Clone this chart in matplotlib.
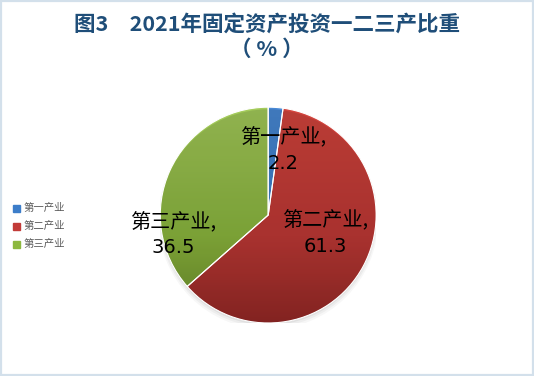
import numpy as np
import matplotlib.pyplot as plt
from matplotlib.colors import LinearSegmentedColormap
from matplotlib.patches import Rectangle

plt.rcParams['font.family'] = ['Noto Sans CJK SC', 'DejaVu Sans']

categories = ["第一产业", "第二产业", "第三产业"]
values = [2.2, 61.3, 36.5]
title_1 = "图3　2021年固定资产投资一二三产比重"
title_2 = "（ % ）"

# dark / middle / light shade per slice
shades = [("#2F6DB8", "#3C7DC9", "#4A8AD6"),
          ("#952A28", "#C13A36", "#D4463F"),
          ("#6B8C2A", "#8DB83F", "#A5CC5C")]
legend_colors = ["#3C7DC9", "#C23B38", "#8DB83F"]
label_pos = [(0.139, 0.597), (0.528, -0.172), (-0.880, -0.186)]


def main():
    fig = plt.figure(figsize=(5.34, 3.76), dpi=100)
    fig.patches.append(Rectangle((0.002, 0.003), 0.996, 0.994,
                                 transform=fig.transFigure, fill=False,
                                 edgecolor="#D3E0EB", linewidth=1.6))

    ax = fig.add_axes([0.300, 0.141, 0.4045, 0.574])
    # soft shadow
    for i, a in enumerate([0.05, 0.04, 0.03]):
        sh = plt.Circle((0.0, -0.02 - 0.01 * i), 1.0 + 0.01 * i,
                        color="black", alpha=a, lw=0)
        ax.add_patch(sh)

    wedges, _ = ax.pie(values, startangle=90, counterclock=False,
                       wedgeprops=dict(edgecolor="white", linewidth=0.8))

    grad = np.linspace(0, 1, 256).reshape(-1, 1)
    for w, (dark, mid, light) in zip(wedges, shades):
        w.set_facecolor("none")
        cmap = LinearSegmentedColormap.from_list(
            "g", [(0, dark), (0.4, mid), (1, light)])
        im = ax.imshow(grad, cmap=cmap, extent=(-1, 1, -1, 1),
                       origin="lower", aspect="auto", zorder=0.5)
        im.set_clip_path(w)
        w.set_zorder(1)

    for (x, y), cat, v in zip(label_pos, categories, values):
        ax.text(x, y + 0.118, f"{cat},", ha="center", va="center",
                fontsize=14.5, color="black", zorder=3)
        ax.text(x, y - 0.118, f"{v}", ha="center", va="center",
                fontsize=14, color="black", family="DejaVu Sans", zorder=3)

    ax.set_xlim(-1, 1)
    ax.set_ylim(-1, 1)
    ax.set_aspect("equal")
    ax.axis("off")

    fig.text(0.5, 1 - 24 / 376, title_1, ha="center", va="center",
             fontsize=15.5, fontweight="bold", color="#1F4E79")
    fig.text(0.5, 1 - 49 / 376, title_2, ha="center", va="center",
             fontsize=15.5, fontweight="bold", color="#1F4E79")

    for i, (cat, c) in enumerate(zip(categories, legend_colors)):
        yy = 1 - (208 + 18 * i) / 376
        fig.patches.append(Rectangle((13 / 534, yy - 3.5 / 376), 7 / 534, 7 / 376,
                                     transform=fig.transFigure, color=c))
        fig.text(24 / 534, yy, cat, ha="left", va="center", fontsize=7.5,
                 color="#595959")

    fig.savefig("out.png", dpi=100)


if __name__ == "__main__":
    main()
